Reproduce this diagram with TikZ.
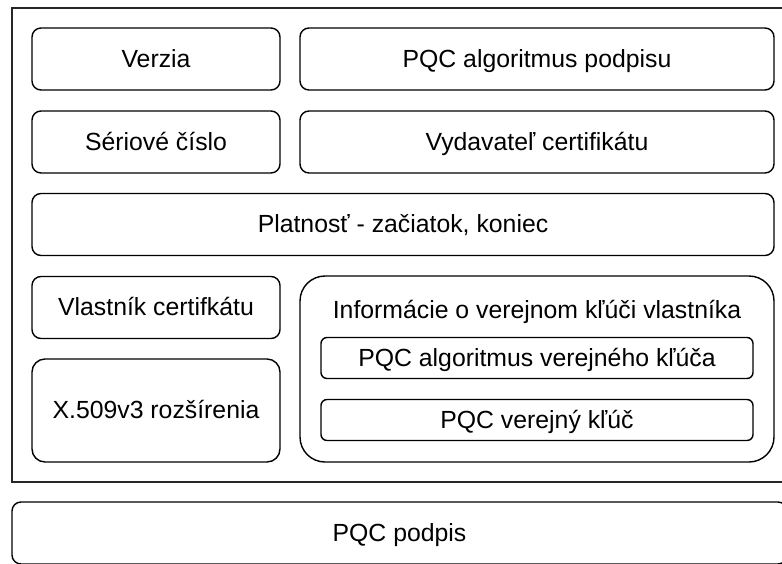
\documentclass[tikz,border=0pt]{standalone}
\usepackage{fontspec}
\setmainfont{Liberation Sans}
\usetikzlibrary{calc}

\begin{document}
\begin{tikzpicture}[x=1pt,y=-1pt,
    txt/.style={font=\fontsize{24.8}{29}\selectfont, text height=20pt, text depth=4pt},
    field/.style={txt, draw, line width=1.4pt, rounded corners=9pt, inner sep=0pt,
      minimum height=62pt},
    small/.style={field, minimum width=248pt},
    wide/.style={field, minimum width=474pt},
    inner/.style={field, rounded corners=6pt, minimum width=432pt, minimum height=41pt},
    group/.style={draw, line width=1.4pt, rounded corners=25pt, inner sep=0pt,
      minimum width=474pt, minimum height=186pt},
    frame/.style={draw=black!85, line width=1.4pt, inner sep=0pt,
      minimum width=775pt, minimum height=474pt}]
  \useasboundingbox (0,0) rectangle (782,563);
  \clip (0,0) rectangle (782,563);
  \coordinate (o) at (0,0);
  \node [frame] at ($(o) + (399.5,245)$) (tbs) {};
  \node [small] at ($(o) + (156,59)$) (ver) {Verzia};
  \node [wide] at ($(o) + (537,59)$) (alg) {PQC algoritmus podpisu};
  \node [small] at ($(o) + (156,142)$) (sn) {Sériové číslo};
  \node [wide] at ($(o) + (537,142)$) (iss) {Vydavateľ certifikátu};
  \node [field, minimum width=742pt] at ($(o) + (403,224.5)$) (val)
    {Platnosť - začiatok, koniec};
  \node [small] at ($(o) + (156,307.5)$) (subj) {Vlastník certifkátu};
  \node [small, rounded corners=13pt, minimum height=103pt] at ($(o) + (156,410.5)$) (ext)
    {X.509v3 rozšírenia};
  \node [group] at ($(o) + (537,369)$) (pki) {};
  \node [txt] at ($(pki.north) + (0,35)$) (pkit)
    {Informácie o verejnom kľúči vlastníka};
  \node [inner] at ($(o) + (537,358)$) (pka) {PQC algoritmus verejného kľúča};
  \node [inner] at ($(o) + (537,420)$) (pk) {PQC verejný kľúč};
  \node [field, minimum width=775pt] at ($(o) + (399.5,533)$) (sig) {PQC podpis};
\end{tikzpicture}
\end{document}
